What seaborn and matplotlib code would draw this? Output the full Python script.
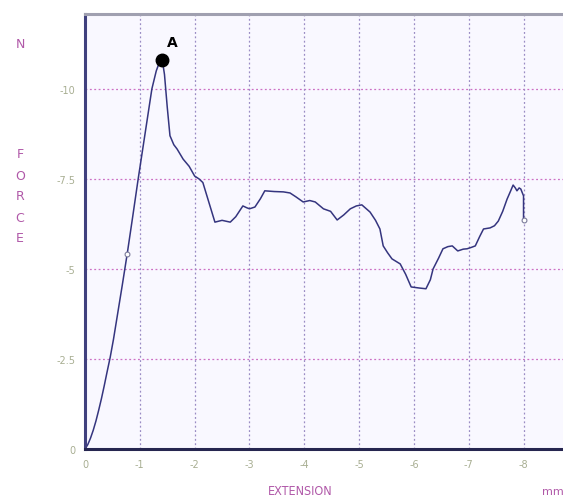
import pandas as pd
import matplotlib
matplotlib.use("Agg")
import matplotlib.pyplot as plt
import seaborn as sns

# force / extension curve
extension = [0, 0.05, 0.1, 0.15, 0.2, 0.25, 0.3, 0.35, 0.4, 0.46, 0.52, 0.6, 0.68,
             0.77, 0.87, 0.97, 1.1, 1.22, 1.3, 1.36, 1.41,
             1.45, 1.5, 1.55, 1.62, 1.68, 1.79, 1.9, 2.0, 2.08, 2.15, 2.25, 2.37,
             2.5, 2.65, 2.75, 2.88, 2.95, 3.0, 3.1, 3.2, 3.28, 3.45, 3.62, 3.74,
             3.85, 3.98, 4.1, 4.2, 4.35, 4.48, 4.6, 4.72, 4.84, 4.95, 5.05, 5.2,
             5.3, 5.38, 5.44, 5.52, 5.6, 5.75, 5.85, 5.95, 6.1, 6.22, 6.3, 6.35,
             6.45, 6.53, 6.62, 6.7, 6.8, 6.9, 6.97, 7.05, 7.12, 7.2, 7.27, 7.39,
             7.47, 7.54, 7.62, 7.7, 7.76, 7.81, 7.85, 7.88, 7.92, 7.95, 8.0, 8.0]
force = [0, 0.12, 0.3, 0.52, 0.78, 1.08, 1.4, 1.75, 2.12, 2.55, 3.05, 3.8, 4.55,
         5.42, 6.45, 7.5, 8.8, 10.0, 10.5, 10.75, 10.8,
         10.4, 9.5, 8.7, 8.45, 8.33, 8.05, 7.85, 7.58, 7.5, 7.4, 6.9, 6.3,
         6.35, 6.3, 6.45, 6.75, 6.7, 6.67, 6.72, 6.95, 7.17, 7.15, 7.14, 7.11,
         7.0, 6.86, 6.9, 6.86, 6.67, 6.6, 6.36, 6.5, 6.67, 6.75, 6.78, 6.58,
         6.35, 6.11, 5.64, 5.45, 5.28, 5.14, 4.85, 4.5, 4.47, 4.45, 4.7, 5.0,
         5.3, 5.56, 5.62, 5.64, 5.5, 5.55, 5.56, 5.6, 5.64, 5.9, 6.11, 6.14,
         6.2, 6.33, 6.6, 6.94, 7.15, 7.33, 7.25, 7.17, 7.25, 7.22, 7.03, 6.36]

peak_x, peak_y = [1.41], [10.8]
open_x, open_y = [0.77, 8.0], [5.42, 6.36]

x_ticks = [0, 1, 2, 3, 4, 5, 6, 7, 8]
x_labels = ["0", "-1", "-2", "-3", "-4", "-5", "-6", "-7", "-8"]
y_ticks = [0, 2.5, 5, 7.5, 10]
y_labels = ["0", "-2.5", "-5", "-7.5", "-10"]

df = pd.DataFrame({"extension": extension, "force": force})

sns.set_style("white")
fig = plt.figure(figsize=(5.63, 5.02), dpi=100)
ax = fig.add_axes([85 / 563, 52 / 502, 478 / 563, 435 / 502])
ax.set_facecolor("#f9f8ff")

sns.lineplot(data=df, x="extension", y="force", sort=False, estimator=None,
             color="#35357f", linewidth=1.1, ax=ax)
ax.scatter(open_x, open_y, s=12, facecolors="white", edgecolors="#7a7a9a",
           linewidths=0.8, zorder=4)
ax.plot(peak_x, peak_y, marker="o", markersize=9, color="black", zorder=5)
ax.text(1.5, 11.2, "A", fontsize=10, fontweight="bold", color="black")

ax.set_xlim(0, 8.72)
ax.set_ylim(0, 12.08)
ax.set_xticks(x_ticks)
ax.set_xticklabels(x_labels)
ax.set_yticks(y_ticks)
ax.set_yticklabels(y_labels)
ax.tick_params(axis="both", labelsize=7, labelcolor="#a8ae92", length=3,
               color="#8a8ab0", pad=4)
ax.set_xlabel("")
ax.set_ylabel("")

for y in y_ticks[1:]:
    ax.axhline(y, color="#cc70c4", linestyle=(0, (1.5, 2)), linewidth=0.9, zorder=0)
for x in x_ticks[1:]:
    ax.axvline(x, color="#9a8cc4", linestyle=(0, (1.5, 2)), linewidth=0.9, zorder=0)

ax.spines["left"].set_color("#40407e")
ax.spines["left"].set_linewidth(2.2)
ax.spines["bottom"].set_color("#262650")
ax.spines["bottom"].set_linewidth(2.2)
ax.spines["top"].set_color("#a0a0b0")
ax.spines["top"].set_linewidth(2.2)
ax.spines["right"].set_visible(False)

label_color = "#b058a8"
fig.text(20 / 563, 1 - 45 / 502, "N", fontsize=9, color=label_color,
         ha="center", va="center")
for i, letter in enumerate("FORCE"):
    fig.text(20 / 563, 1 - (155 + i * 21) / 502, letter, fontsize=9,
             color=label_color, ha="center", va="center")
fig.text(300 / 563, 1 - 492 / 502, "EXTENSION", fontsize=9, color=label_color,
         ha="center", va="center", fontstretch="condensed")
fig.text(553 / 563, 1 - 492 / 502, "mm", fontsize=8, color=label_color,
         ha="center", va="center")

fig.savefig("out.png", dpi=100)
